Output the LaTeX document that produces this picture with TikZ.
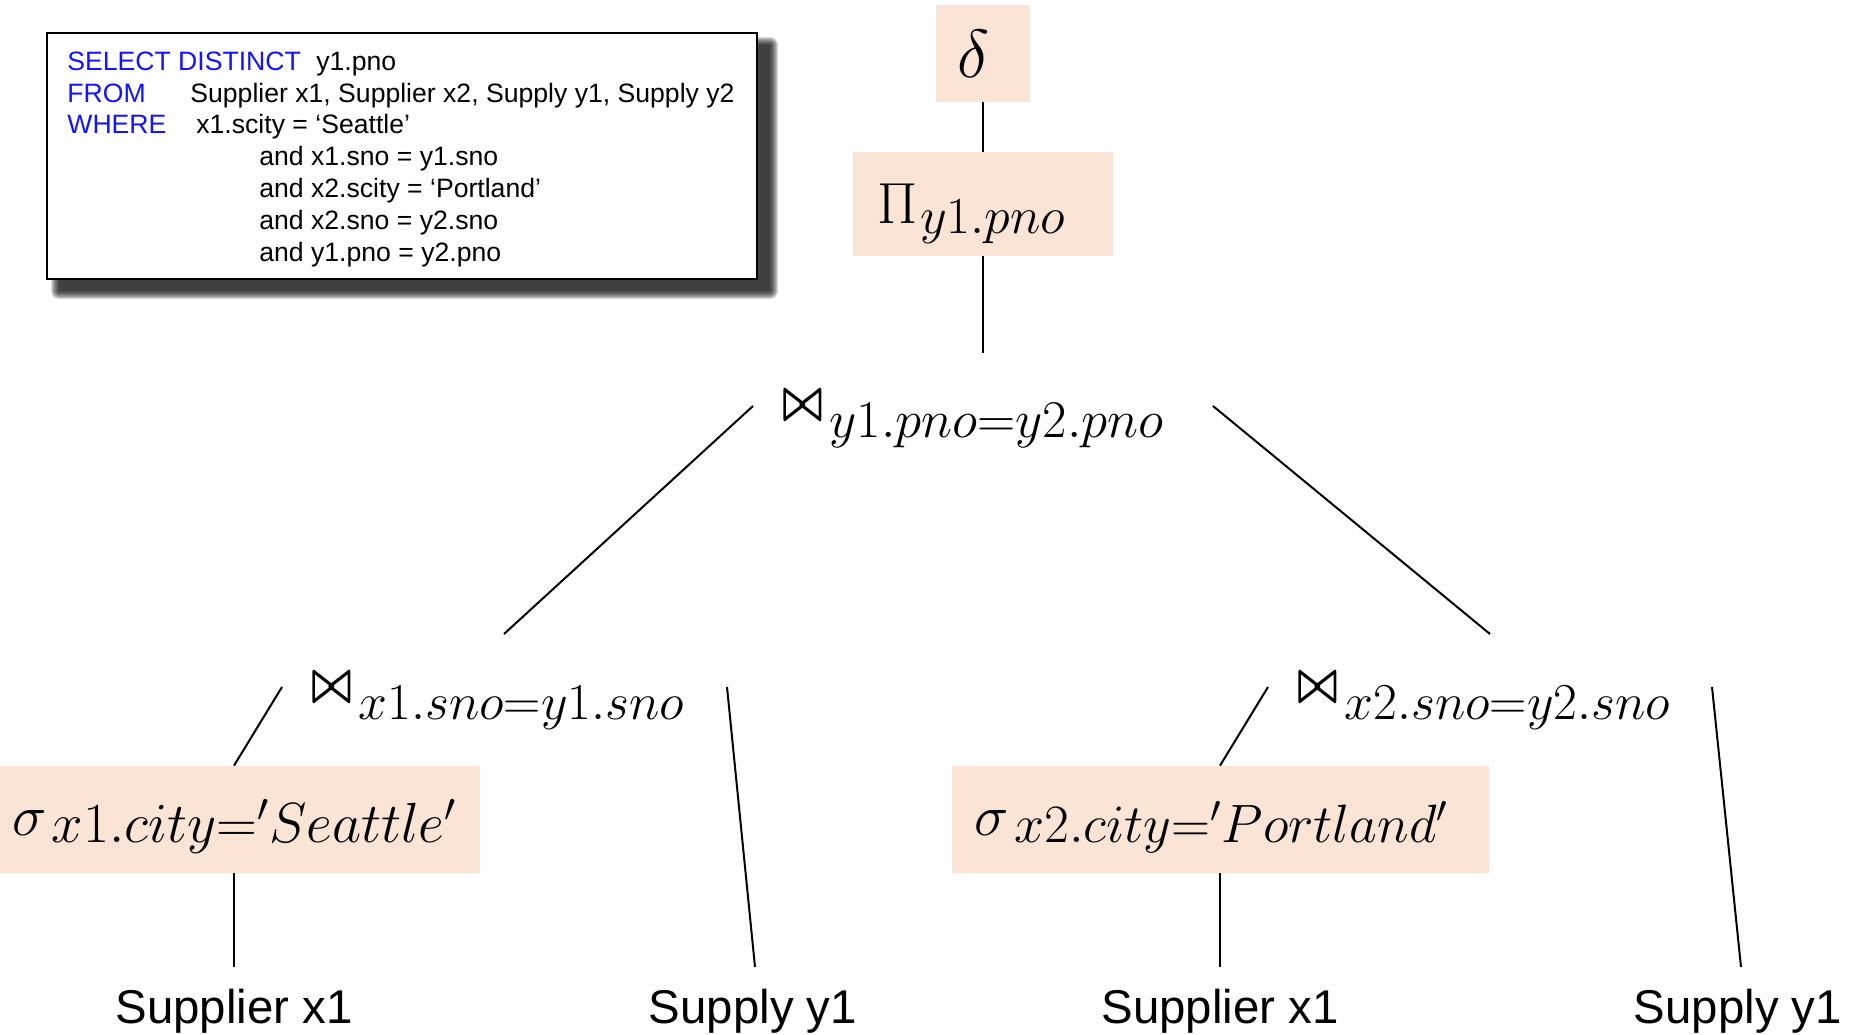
\RequirePackage{fix-cm}
\documentclass[tikz,border=0pt]{standalone}
\usepackage{fontspec}
\setsansfont{Liberation Sans}
\usepackage{graphicx}

\definecolor{opfill}{RGB}{249,228,213}
\definecolor{kwblue}{RGB}{20,20,250}

% operator labels: a large operator symbol followed by its condition
\newcommand\joinlabel[2][26.5]{%
  \raisebox{9pt}{\scalebox{1}[1.35]{\fontsize{21.5}{22}\selectfont\boldmath$\bowtie$}}%
  \hspace{3pt}{\fontsize{#1}{#1}\selectfont$#2$}}
\newcommand\sellabel[2][26.5]{%
  \raisebox{3.5pt}{\fontsize{29}{30}\selectfont$\sigma$}%
  \hspace{2.5pt}{\fontsize{#1}{#1}\selectfont$#2$}}
\newcommand\projlabel[1]{%
  \raisebox{5pt}{\fontsize{29}{30}\selectfont$\Pi$}%
  \hspace{1pt}{\fontsize{26}{27}\selectfont$#1$}}

\begin{document}
\begin{tikzpicture}[x=0.5pt,y=-0.5pt,
  opbox/.style={fill=opfill, inner sep=0pt},
  opname/.style={inner sep=0pt, anchor=base west},
  sql/.style={font=\sffamily\fontsize{13.3}{15}\selectfont, inner sep=0pt, anchor=base west},
  kw/.style={sql, text=kwblue},
  leaf/.style={font=\sffamily\fontsize{23.7}{27}\selectfont, inner sep=0pt, anchor=base},
  edge/.style={line width=1pt, black}]

\useasboundingbox (0,0) rectangle (1861,1034);

% soft shadow behind the query box
\foreach \e in {8,7,...,0}{
  \fill[black, opacity=0.14, rounded corners=\e*0.5pt]
    (59-\e,45-\e) rectangle (770+\e,291+\e);
}
\node[draw=black, fill=white, line width=1pt, inner sep=0pt,
      minimum width=355pt, minimum height=123pt] (query) at (402,156) {};

% SQL query text
\node[kw]  (selkw)   at (67,70)   {SELECT DISTINCT};
\node[sql] (seltx)   at (316,70)  {y1.pno};
\node[kw]  (fromkw)  at (67,102)  {FROM};
\node[sql] (fromtx)  at (190,102) {Supplier x1, Supplier x2, Supply y1, Supply y2};
\node[kw]  (wherekw) at (67,133)  {WHERE};
\node[sql] (wh1)     at (196,133) {x1.scity = ‘Seattle’};
\node[sql] (wh2)     at (259,165) {and x1.sno = y1.sno};
\node[sql] (wh3)     at (259,197) {and x2.scity = ‘Portland’};
\node[sql] (wh4)     at (259,229) {and x2.sno = y2.sno};
\node[sql] (wh5)     at (259,261) {and y1.pno = y2.pno};

% plan operators (trailing space keeps each label slightly left of centre)
\node[opbox, minimum width=47pt, minimum height=48.5pt] (dedup) at (983,53.5)
  {\fontsize{34}{36}\selectfont$\delta$\hspace{9pt}\null};
\node[opbox, minimum width=130pt, minimum height=52pt,
      text height=29pt, text depth=0pt] (proj) at (983,204)
  {\projlabel{y1.pno}\hspace{11.5pt}\null};
\node[opname] (jtop)   at (782,437)  {\joinlabel[26.5]{y1.pno{=}y2.pno}};
\node[opname] (jleft)  at (311,719)  {\joinlabel[25.9]{x1.sno{=}y1.sno}};
\node[opname] (jright) at (1297,719) {\joinlabel[25.9]{x2.sno{=}y2.sno}};
\node[opbox, minimum width=240pt, minimum height=53.5pt,
      text height=22.5pt, text depth=0pt] (selS) at (240,819.5)
  {\sellabel[28.3]{x1.city{=}{}'Seattle{}'}\hspace{5.5pt}\null};
\node[opbox, minimum width=268.5pt, minimum height=53.5pt,
      text height=22.5pt, text depth=0pt] (selP) at (1220.5,819.5)
  {\sellabel[27]{x2.city{=}{}'Portland{}'}\hspace{9pt}\null};

% base relations
\node[leaf] (rel1) at (234,1023)  {Supplier x1};
\node[leaf] (rel2) at (753,1023)  {Supply y1};
\node[leaf] (rel3) at (1220,1023) {Supplier x1};
\node[leaf] (rel4) at (1738,1023) {Supply y1};

% free line ends
\coordinate (projend) at (983,353);
\coordinate (jtopL)   at (753,406);
\coordinate (jtopR)   at (1213,406);
\coordinate (jleftT)  at (504,634);
\coordinate (jrightT) at (1490,634);
\coordinate (jleftL)  at (282,687);
\coordinate (jleftR)  at (727,687);
\coordinate (jrightL) at (1268,687);
\coordinate (jrightR) at (1712,687);
\coordinate (rel1top) at (234,967);
\coordinate (rel2top) at (755,967);
\coordinate (rel3top) at (1220,967);
\coordinate (rel4top) at (1741,967);

% edges of the plan tree
\draw[edge] (dedup.south) -- (proj.north);
\draw[edge] (proj.south) -- (projend);
\draw[edge] (jtopL) -- (jleftT);
\draw[edge] (jtopR) -- (jrightT);
\draw[edge] (jleftL) -- (selS.north -| rel1);
\draw[edge] (jleftR) -- (rel2top);
\draw[edge] (selS.south -| rel1) -- (rel1top);
\draw[edge] (jrightL) -- (selP.north -| rel3);
\draw[edge] (jrightR) -- (rel4top);
\draw[edge] (selP.south -| rel3) -- (rel3top);
\end{tikzpicture}
\end{document}
